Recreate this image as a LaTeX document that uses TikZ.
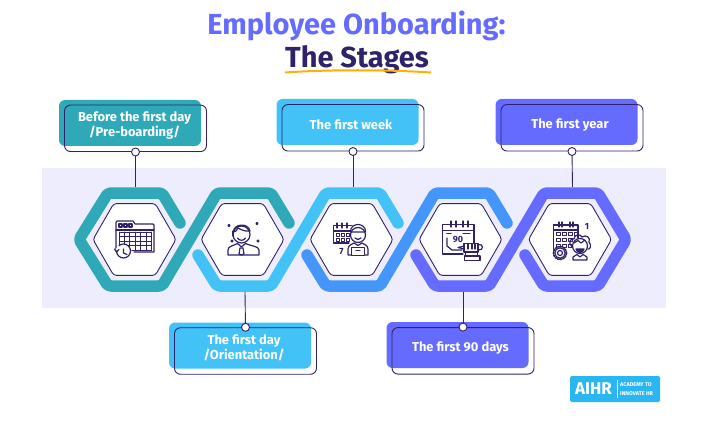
\documentclass[tikz,border=0pt]{standalone}
\usepackage{fontspec}
\setmainfont{Fira Sans}
\usetikzlibrary{shapes.geometric}

\definecolor{teal1}{HTML}{2FA9B8}
\definecolor{sky1}{HTML}{42C2F7}
\definecolor{blue1}{HTML}{4496FB}
\definecolor{violet1}{HTML}{656BFF}
\definecolor{ink1}{HTML}{2F2268}
\definecolor{band1}{HTML}{EEEDFD}
\definecolor{gold1}{HTML}{FFB000}
\definecolor{logo1}{HTML}{2AB6F0}

\tikzset{
	ribbon/.style = {line width = 11.5pt, line cap = round, line join = round, rounded corners = 3pt},
	hexa/.style = {draw = ink1, line width = 0.9pt, fill = white, regular polygon, regular polygon sides = 6, minimum size = 83pt, inner sep = 0pt, rounded corners = 3pt},
	backbox/.style = {minimum width = 142pt, minimum height = 46pt, rounded corners = 6pt, inner sep = 0pt},
	framebox/.style = {draw = ink1, line width = 0.9pt, minimum width = 142pt, minimum height = 46.5pt, rounded corners = 6pt, inner sep = 0pt},
	boxtext/.style = {text = white, align = center, inner sep = 0pt, font = \fontsize{12.9}{15.5}\selectfont\bfseries},
	pin/.style = {draw = ink1, circle, fill = white, line width = 0.9pt, inner sep = 0pt, minimum size = 8pt},
	stem/.style = {draw = ink1, line width = 0.9pt},
	icon/.style = {draw = ink1, line width = 1.2pt, line join = round, line cap = round},
	icontext/.style = {text = ink1, inner sep = 0pt, font = \fontsize{9}{9}\selectfont\bfseries}
}

\begin{document}
\begin{tikzpicture}[x=1pt, y=-1pt]
		\useasboundingbox (0,0) rectangle (727,422);
		
		% title
		\node[text = violet1, font = \fontsize{29}{30}\selectfont\bfseries, inner sep = 0pt] (title) at (356.5,26) {Employee Onboarding:};
		\node[text = ink1, font = \fontsize{29}{30}\selectfont\bfseries, inner sep = 0pt] (stages) at (357,60) {The Stages};
		\path[draw = gold1, line width = 2pt] (285,72.5) .. controls (330,69.5) and (385,69.5) .. (431,72.5);
		
		% band
		\path[fill = band1] (42,168) rectangle (666,308);
		
		% ribbons
		\path[draw = teal1, ribbon] (180,223) -- (162,193) -- (108,193) -- (79,239.5) -- (108,286) -- (162,286) -- (217,193) -- (271,193) -- (289,223);
		\path[draw = sky1, ribbon] (198,255) -- (217,286) -- (271,286) -- (326,193) -- (380,193) -- (398,223);
		\path[draw = blue1, ribbon] (307,255) -- (326,286) -- (380,286) -- (435,193) -- (489,193) -- (507,223);
		\path[draw = violet1, ribbon] (416,255) -- (435,286) -- (489,286) -- (544,193) -- (598,193) -- (626,239.5) -- (598,286) -- (544,286) -- (525,255);
		
		% hexagons
		\node[hexa] (H1) at (134.5,239.5) {};
		\node[hexa] (H2) at (242.5,239.5) {};
		\node[hexa] (H3) at (351.5,239.5) {};
		\node[hexa] (H4) at (460.5,239.5) {};
		\node[hexa] (H5) at (570,239.5) {};
		
		% boxes
		\node[backbox, fill = teal1] (B1) at (130,123) {};
		\node[framebox] (F1) at (135.5,128.3) {};
		\node[boxtext] (L1) at (134.5,125.5) {Before the first day\\/Pre-boarding/};
		\node[backbox, fill = sky1] (B2) at (240,345.5) {};
		\node[framebox] (F2) at (245.5,351) {};
		\node[boxtext] (L2) at (244,348) {The first day\\/Orientation/};
		\node[backbox, fill = sky1] (B3) at (347.5,122) {};
		\node[framebox] (F3) at (353,127.8) {};
		\node[boxtext] (L3) at (351,125) {The first week};
		\node[backbox, fill = violet1] (B4) at (457.5,345) {};
		\node[framebox] (F4) at (463,350.8) {};
		\node[boxtext] (L4) at (460.5,348) {The first 90 days};
		\node[backbox, fill = violet1] (B5) at (566.5,122) {};
		\node[framebox] (F5) at (572,127.8) {};
		\node[boxtext] (L5) at (570,125) {The first year};
		
		% stems and pins
		\coordinate (T1) at (135.5,187);
		\coordinate (T2) at (245,292);
		\coordinate (T3) at (353,187);
		\coordinate (T4) at (463,292);
		\coordinate (T5) at (572.5,187);
		\path[stem] (F1.south) -- (T1);
		\path[stem] (F2.north) -- (T2);
		\path[stem] (F3.south) -- (T3);
		\path[stem] (F4.north) -- (T4);
		\path[stem] (F5.south) -- (T5);
		\node[pin] (P1) at (F1.south) {};
		\node[pin] (P2) at (F2.north) {};
		\node[pin] (P3) at (F3.south) {};
		\node[pin] (P4) at (F4.north) {};
		\node[pin] (P5) at (F5.south) {};
		
		% icon 1
		\path[icon] (116,251) -- (116,222.5) -- (117,221) -- (133,221) -- (135,224) -- (153,224) -- (154,225) -- (154,252) -- (134,252);
		\path[icon] (116,230) -- (154,230);
		\path[icon] (119,224) rectangle (122,227) (124,224) rectangle (127,227) (129,224) rectangle (132,227);
		\foreach \x in {119,124.4,...,152}
			\path[icon, line width = 0.8pt] (\x,232) -- (\x,251);
		\foreach \y in {232,236.6,...,251}
			\path[icon, line width = 0.8pt] (120,\y) -- (151,\y);
		\path[fill = white] (123.5,253) circle (8.5);
		\path[icon, line width = 1.2pt] (116.5,251) arc (180:-130:7);
		\path[icon] (123.5,249) -- (123.5,253) -- (127,254.5);
		\path[icon] (114.5,249) -- (116.5,252) -- (119,249.5);
		
		% icon 2
		\path[icon] (241.5,234.5) circle (8.5);
		\path[icon] (233.5,232) .. controls (233,224) and (248,222) .. (250,231) .. controls (245,232) and (240,229) .. (238,228) .. controls (237,231) and (235,232) .. (233.5,232);
		\path[icon] (233,231) -- (233,236);
		\path[icon] (237.5,238) .. controls (239,241) and (244,241) .. (245.5,238);
		\path[icon] (228,255) -- (228,250) .. controls (228,246) and (233,246) .. (237.5,243.5) -- (241.5,247) -- (245.5,243.5) .. controls (250,246) and (259,246) .. (259,250) -- (259,255) -- cycle;
		\path[icon] (240,248) -- (243,248) -- (244,254) -- (241.5,255) -- (239,254) -- cycle;
		\path[icon, fill = ink1] (229,224.5) -- (230,225.5) -- (229,226.5) -- (228,225.5) -- cycle;
		\path[icon, fill = ink1] (257,222.5) -- (258,223.5) -- (257,224.5) -- (256,223.5) -- cycle;
		\path[icon, fill = ink1] (232,240) -- (233,241) -- (232,242) -- (231,241) -- cycle;
		\path[icon, fill = ink1] (258,240) -- (259,241) -- (258,242) -- (257,241) -- cycle;
		
		% icon 3
		\path[icon] (349,243) -- (333.5,243) -- (333.5,225.5) -- (352,225.5);
		\path[icon] (333.5,231) -- (351,231);
		\foreach \x in {337,342,347}
			\path[icon] (\x,223) -- (\x,228);
		\foreach \x in {336,341,346}
			\foreach \y in {233,238}
				\path[icon, line width = 0.8pt] (\x,\y) rectangle ++(3.4,3);
		\node[icontext] (seven) at (341.5,252) {7};
		\path[icon, fill = white] (358,235) circle (7.5);
		\path[icon] (350.5,232) .. controls (350,222) and (366,222) .. (365.5,232) -- cycle;
		\path[icon] (355,238) .. controls (356.5,240) and (359.5,240) .. (361,238);
		\path[icon] (348,255) -- (348,249) .. controls (348,245) and (353,244) .. (354,243) -- (358,245.5) -- (362,243) .. controls (363,244) and (368,245) .. (368,249) -- (368,255) -- cycle;
		\path[icon, fill = white] (351.5,247.5) rectangle (364.5,255.5);
		\path[icon] (356,250.5) -- (360,250.5);
		
		% icon 4
		\path[icon] (463,254) -- (442.5,254) -- (442.5,224.5) -- (474,224.5) -- (474,243);
		\path[icon] (442.5,230.5) -- (474,230.5);
		\foreach \x in {451,456,463,468}
			\path[icon] (\x,221) -- (\x,227);
		\path[icon] (447,233.5) -- (451,233.5) (463,233.5) -- (470,233.5);
		\path[icon] (447,238) -- (447,246) -- (452,250) -- (462,250);
		\node[icontext] (ninety) at (458,240) {90};
		\path[icon, fill = white] (464,243.5) rectangle (478,252);
		\path[icon] (468,243.5) -- (468,249) (472,243.5) -- (472,249) (475,243.5) -- (475,249);
		\path[icon] (478,245) .. controls (484,243) and (484,251) .. (478,250);
		\path[icon] (464,246) -- (458,247.5) -- (464,249);
		\path[icon, fill = white] (465.5,252) -- (477.5,252) -- (477.5,256) -- (465.5,256) -- cycle;
		\path[icon] (464.5,256) rectangle (480,260.5);
		
		% icon 5
		\path[icon] (555,251) -- (553.5,251) -- (553.5,225) -- (578,225) -- (578,238);
		\path[icon] (553.5,230) -- (578,230);
		\foreach \x in {559,562,570,573}
			\path[icon] (\x,222) -- (\x,227);
		\foreach \x in {556.5,562.5,568.5}
			\foreach \y in {232,238,244}
				\path[icon, line width = 0.9pt] (\x,\y) rectangle ++(3.6,3.6);
		\path[icon, line width = 0.9pt] (574.5,232) rectangle ++(3,3.6);
		\path[icon, fill = white, line width = 1.6pt, dash pattern = on 1.6pt off 1.2pt] (560,253) circle (6.5);
		\path[icon, fill = white] (560,253) circle (5.2);
		\path[icon] (560,253) circle (2.5);
		\node[icontext] (one) at (587,226.5) {1};
		\path[icon, fill = white] (580,246) circle (7.5);
		\path[icon] (572,247) .. controls (568,243) and (570,238) .. (574,239) .. controls (574,234) and (581,234) .. (582,237) .. controls (586,234) and (591,238) .. (589,242) .. controls (592,245) and (590,250) .. (588,249);
		\path[icon] (574,243) -- (578,240.5) -- (581,243) -- (585,240);
		\path[icon, fill = ink1] (576,249) .. controls (577,253.5) and (583,253.5) .. (584,249) -- cycle;
		\path[icon] (573,260) -- (573,257) -- (577,254.5) -- (580,257) -- (583,254.5) -- (587,257) -- (587,260) -- cycle;
		
		% logo
		\path[fill = logo1, rounded corners = 1.5pt] (570,376) rectangle (660,402);
		\node[text = white, font = \fontsize{17}{17}\selectfont\bfseries, inner sep = 0pt] (aihr) at (593.5,389) {AIHR};
		\path[draw = white, line width = 0.5pt] (617,380) -- (617,398);
		\node[text = white, font = \fontsize{5.5}{8.2}\selectfont\bfseries, inner sep = 0pt, align = left, anchor = west] (academy) at (620,389) {ACADEMY TO\\INNOVATE HR};
	\end{tikzpicture}
\end{document}
